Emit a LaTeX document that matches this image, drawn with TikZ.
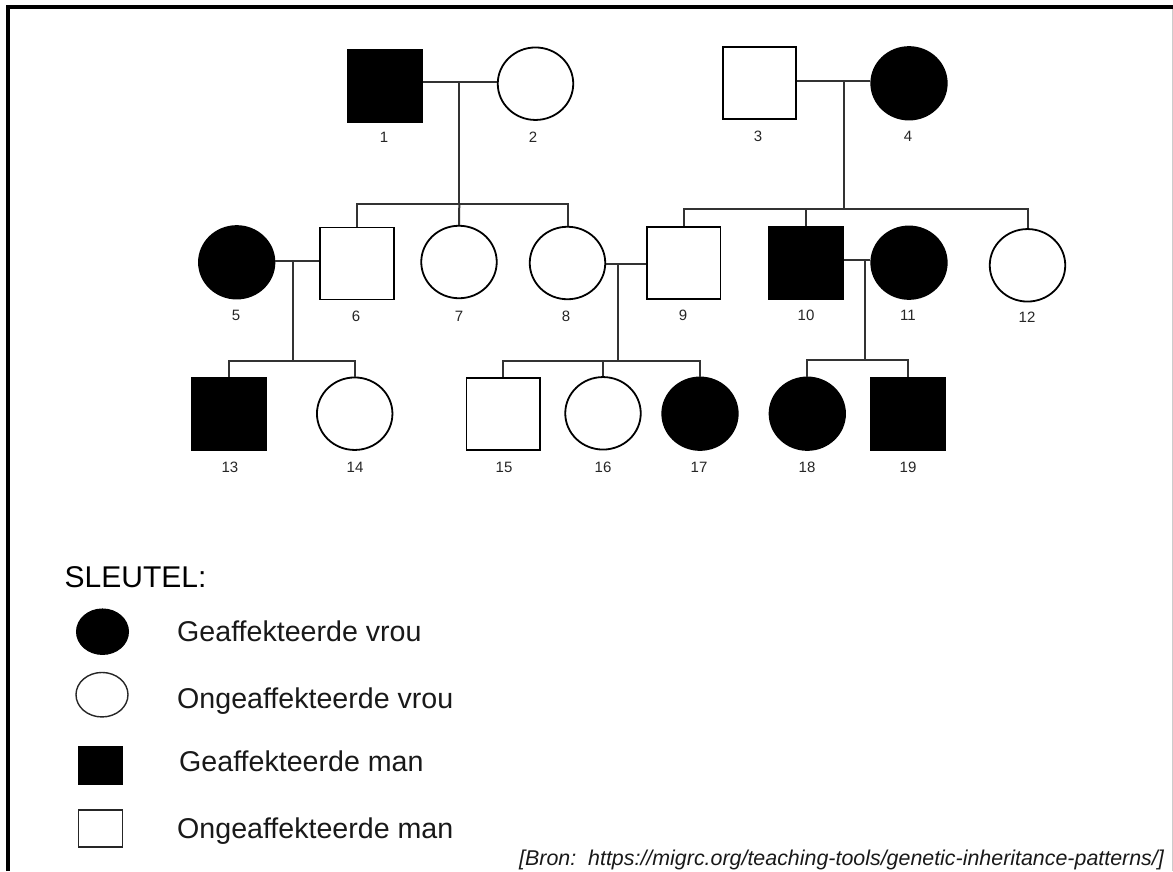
\documentclass[tikz,border=0pt]{standalone}
\usepackage{fontspec}
\setmainfont{Liberation Sans}
\usetikzlibrary{shapes.geometric}
\begin{document}
\begin{tikzpicture}[x=1pt,y=-1pt,
  male/.style={draw=black, rectangle, line width=1.8pt, minimum width=73.5pt, minimum height=72pt, inner sep=0pt, fill=white},
  female/.style={draw=black, ellipse, line width=1.8pt, minimum width=75.5pt, minimum height=72.5pt, inner sep=0pt, fill=white},
  aff/.style={fill=black},
  lbl/.style={font=\fontsize{15}{15}\selectfont, text=black!85, inner sep=0pt},
  link/.style={line width=2pt, draw=black!80},
  keytxt/.style={font=\fontsize{28.6}{30}\selectfont, anchor=base west, inner sep=0pt, text=black!90}
]
\useasboundingbox (0,0) rectangle (1173,871);
\fill[white] (0,0) rectangle (1173,871);
% frame
\draw[line width=4pt] (7.5,871) -- (7.5,7) -- (1173,7);
\draw[line width=1pt, draw=black!20] (1172,9) -- (1172,871);

% generation I
\node[male,aff] (p1) at (385,86) {};
\node[female] (p2) at (535.5,83.7) {};
\node[male] (p3) at (759.5,83) {};
\node[female,aff] (p4) at (909,83.3) {};
% generation II
\node[female,aff] (p5) at (236.7,262.3) {};
\node[male] (p6) at (357,263.5) {};
\node[female] (p7) at (459,262) {};
\node[female] (p8) at (567.5,263) {};
\node[male] (p9) at (683.7,262.7) {};
\node[male,aff] (p10) at (806,262.7) {};
\node[female,aff] (p11) at (909,262.7) {};
\node[female] (p12) at (1027.5,265.3) {};
% generation III
\node[male,aff] (p13) at (229,413.7) {};
\node[female] (p14) at (354.7,413.7) {};
\node[male] (p15) at (503.3,413.7) {};
\node[female] (p16) at (603,413.3) {};
\node[female,aff] (p17) at (700,413.7) {};
\node[female,aff] (p18) at (807.3,413.7) {};
\node[male,aff] (p19) at (908,413.7) {};

% labels
\node[lbl] (l1) at (384,137) {1};
\node[lbl] (l2) at (533,137) {2};
\node[lbl] (l3) at (758,136) {3};
\node[lbl] (l4) at (908,136) {4};
\node[lbl] (l5) at (236,315) {5};
\node[lbl] (l6) at (356,316) {6};
\node[lbl] (l7) at (459,316) {7};
\node[lbl] (l8) at (566,316) {8};
\node[lbl] (l9) at (683,315) {9};
\node[lbl] (l10) at (806,315) {10};
\node[lbl] (l11) at (908,315) {11};
\node[lbl] (l12) at (1027,317) {12};
\node[lbl] (l13) at (230,467) {13};
\node[lbl] (l14) at (355,467) {14};
\node[lbl] (l15) at (504,467) {15};
\node[lbl] (l16) at (603,467) {16};
\node[lbl] (l17) at (699,467) {17};
\node[lbl] (l18) at (807,467) {18};
\node[lbl] (l19) at (908,467) {19};

% family 1-2
\coordinate (m12) at (459.3,82.3);
\coordinate (s12) at (459.3,204);
\draw[link] (p1.east |- m12) -- (p2.west |- m12);
\draw[link] (m12) -- (s12);
\draw[link] (p6.north) -- (p6.north |- s12) -- (p8.north |- s12) -- (p8.north);
\draw[link] (s12) -- (p7.north);
% family 3-4
\coordinate (m34) at (844.3,81);
\coordinate (s34) at (844.3,209);
\draw[link] (p3.east |- m34) -- (p4.west |- m34);
\draw[link] (m34) -- (s34);
\draw[link] (p9.north) -- (p9.north |- s34) -- (p12.north |- s34) -- (p12.north);
\draw[link] (p10.north |- s34) -- (p10.north);
% family 5-6
\coordinate (m56) at (293.3,261);
\coordinate (s56) at (293.3,360.7);
\draw[link] (p5.east |- m56) -- (p6.west |- m56);
\draw[link] (m56) -- (s56);
\draw[link] (p13.north) -- (p13.north |- s56) -- (p14.north |- s56) -- (p14.north);
% family 8-9
\coordinate (m89) at (618,264);
\coordinate (s89) at (618,360.7);
\draw[link] (p8.east |- m89) -- (p9.west |- m89);
\draw[link] (m89) -- (s89);
\draw[link] (p15.north) -- (p15.north |- s89) -- (p17.north |- s89) -- (p17.north);
\draw[link] (p16.north |- s89) -- (p16.north);
% family 10-11
\coordinate (m1011) at (865,260);
\coordinate (s1011) at (865,360);
\draw[link] (p10.east |- m1011) -- (p11.west |- m1011);
\draw[link] (m1011) -- (s1011);
\draw[link] (p18.north) -- (p18.north |- s1011) -- (p19.north |- s1011) -- (p19.north);

% key
\node[font=\fontsize{30}{32}\selectfont, anchor=base west, inner sep=0pt] (key) at (64.5,587) {SLEUTEL:};
\node[ellipse, fill=black, draw=black, line width=1pt, minimum width=52pt, minimum height=45.5pt, inner sep=0pt] (kf) at (102.5,631.7) {};
\node[ellipse, draw=black!85, line width=1.4pt, minimum width=52pt, minimum height=44.5pt, inner sep=0pt] (ku) at (102,694.7) {};
\node[rectangle, fill=black, minimum width=45.5pt, minimum height=39pt, inner sep=0pt] (km) at (100.5,765.7) {};
\node[rectangle, draw=black!85, line width=1.6pt, minimum width=44pt, minimum height=37pt, inner sep=0pt] (kum) at (100.5,828.5) {};
\node[keytxt] (tkf) at (177,641.7) {Geaffekteerde vrou};
\node[keytxt] (tku) at (177,708.3) {Ongeaffekteerde vrou};
\node[keytxt] (tkm) at (179,771.7) {Geaffekteerde man};
\node[keytxt] (tkum) at (177,838.3) {Ongeaffekteerde man};

% source
\node[font=\fontsize{21.4}{24}\selectfont\itshape, anchor=base west, inner sep=0pt, text=black!90] (src) at (519,865) {[Bron:\ \ https://migrc.org/teaching-tools/genetic-inheritance-patterns/]};
\end{tikzpicture}
\end{document}
